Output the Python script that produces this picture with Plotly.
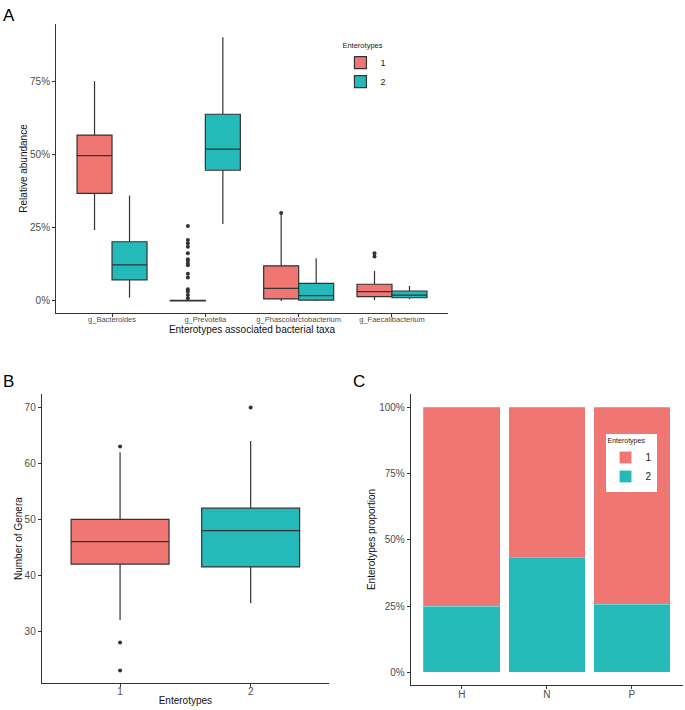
"""Enterotype figure: taxa abundance boxes (A), genera counts (B), group proportions (C)."""

import plotly.graph_objects as go

FONT = "Liberation Sans, Arial, sans-serif"
RED = "#EF7672"
TEAL = "#25BABA"
LINE = "#333333"
TICK_TXT = "#4D4D4D"

# ---- Panel A: relative abundance of enterotype-associated taxa ----
taxa = ["g_Bacteroides", "g_Prevotella", "g_Phascolarctobacterium", "g_Faecalibacterium"]

e1_lo = [0.242, 0.000, 0.000, 0.003]
e1_q1 = [0.367, 0.000, 0.007, 0.015]
e1_med = [0.496, 0.000, 0.043, 0.032]
e1_q3 = [0.566, 0.002, 0.120, 0.057]
e1_hi = [0.750, 0.003, 0.300, 0.102]

e2_lo = [0.011, 0.263, 0.000, 0.006]
e2_q1 = [0.072, 0.446, 0.003, 0.011]
e2_med = [0.123, 0.518, 0.018, 0.020]
e2_q3 = [0.202, 0.637, 0.060, 0.034]
e2_hi = [0.360, 0.900, 0.146, 0.051]

# outliers (enterotype 1 only)
out_taxon = ["g_Prevotella"] * 15 + ["g_Phascolarctobacterium"] + ["g_Faecalibacterium"] * 2
out_value = [0.256, 0.208, 0.197, 0.185, 0.163, 0.142, 0.136, 0.127, 0.122,
             0.093, 0.080, 0.040, 0.032, 0.020, 0.009,
             0.300,
             0.163, 0.152]

# ---- Panel B: number of genera per enterotype ----
ent_groups = ["1", "2"]
b_lo = [32, 35]
b_q1 = [42, 41.5]
b_med = [46, 48]
b_q3 = [50, 52]
b_hi = [62, 64]
b_out_group = ["1", "1", "1", "2"]
b_out_value = [63, 28, 23, 70]

# ---- Panel C: enterotype proportion per group ----
cohorts = ["H", "N", "P"]
prop_e1 = [0.750, 0.567, 0.743]
prop_e2 = [0.250, 0.433, 0.257]

DODGE = 0.1875
BOXW = 0.375

fig = go.Figure()

# Panel A boxes (numeric positions from category index, dodged)
idx = list(range(len(taxa)))
for name, color, shift, lo, q1, med, q3, hi in [
    ("1", RED, -DODGE, e1_lo, e1_q1, e1_med, e1_q3, e1_hi),
    ("2", TEAL, DODGE, e2_lo, e2_q1, e2_med, e2_q3, e2_hi),
]:
    fig.add_trace(go.Box(
        x=[i + shift for i in idx],
        lowerfence=lo, q1=q1, median=med, q3=q3, upperfence=hi,
        width=BOXW, whiskerwidth=0,
        fillcolor=color, line={"color": LINE, "width": 1.2},
        boxpoints=False, name=name, legend="legend",
        xaxis="x", yaxis="y",
    ))

fig.add_trace(go.Scatter(
    x=[taxa.index(t) - DODGE for t in out_taxon], y=out_value,
    mode="markers", marker={"color": LINE, "size": 4},
    showlegend=False, xaxis="x", yaxis="y",
))

# Panel B boxes
for g, color, lo, q1, med, q3, hi in zip(ent_groups, [RED, TEAL], b_lo, b_q1, b_med, b_q3, b_hi):
    fig.add_trace(go.Box(
        x=[g], lowerfence=[lo], q1=[q1], median=[med], q3=[q3], upperfence=[hi],
        width=0.75, whiskerwidth=0,
        fillcolor=color, line={"color": LINE, "width": 1.2},
        boxpoints=False, showlegend=False,
        xaxis="x2", yaxis="y2",
    ))

fig.add_trace(go.Scatter(
    x=b_out_group, y=b_out_value,
    mode="markers", marker={"color": LINE, "size": 4},
    showlegend=False, xaxis="x2", yaxis="y2",
))

# Panel C stacked bars (enterotype 2 at bottom)
fig.add_trace(go.Bar(
    x=cohorts, y=prop_e2, name="2", marker_color=TEAL, width=0.9,
    marker_line={"color": "rgba(255,255,255,0.4)", "width": 0.5},
    legend="legend2", legendrank=2, xaxis="x3", yaxis="y3",
))
fig.add_trace(go.Bar(
    x=cohorts, y=prop_e1, name="1", marker_color=RED, width=0.9,
    marker_line={"color": "rgba(255,255,255,0.4)", "width": 0.5},
    legend="legend2", legendrank=1, xaxis="x3", yaxis="y3",
))

axis_common = dict(
    showline=True, linecolor=LINE, linewidth=1,
    ticks="outside", ticklen=3, tickcolor=LINE, tickwidth=1,
    showgrid=False, zeroline=False,
    tickfont={"size": 10, "color": TICK_TXT, "family": FONT},
)
title_font = {"size": 10, "color": "#111111", "family": FONT}

fig.update_layout(
    width=685, height=710,
    margin={"l": 0, "r": 0, "t": 0, "b": 0},
    paper_bgcolor="white", plot_bgcolor="white",
    font={"family": FONT},
    barmode="stack",
    boxmode="overlay",
    xaxis=dict(
        axis_common, domain=[0.0818, 0.654], anchor="y",
        range=[-0.6, 3.6], tickvals=idx, ticktext=taxa,
        tickfont={"size": 7.5, "color": TICK_TXT, "family": FONT},
        ticklabelstandoff=-4,
        title={"text": "Enterotypes associated bacterial taxa", "font": title_font, "standoff": 0},
    ),
    yaxis=dict(
        axis_common, domain=[0.5592, 0.9662], anchor="x",
        range=[-0.041, 0.945], tickvals=[0, 0.25, 0.5, 0.75], tickformat=".0%",
        title={"text": "Relative abundance", "font": title_font, "standoff": 0},
    ),
    xaxis2=dict(
        axis_common, domain=[0.0609, 0.4803], anchor="y2",
        type="category", range=[-0.6, 1.6], ticklabelstandoff=-4,
        title={"text": "Enterotypes", "font": title_font, "standoff": 0},
    ),
    yaxis2=dict(
        axis_common, domain=[0.0376, 0.4451], anchor="x2",
        range=[20.7, 72.4], tickvals=[30, 40, 50, 60, 70],
        title={"text": "Number of Genera", "font": title_font, "standoff": 0},
    ),
    xaxis3=dict(
        axis_common, domain=[0.5996, 0.997], anchor="y3",
        type="category", range=[-0.6, 2.6], ticklabelstandoff=-3,
    ),
    yaxis3=dict(
        axis_common, domain=[0.0352, 0.4451], anchor="x3",
        range=[-0.048, 1.05], tickvals=[0, 0.25, 0.5, 0.75, 1.0], tickformat=".0%",
        title={"text": "Enterotypes proportion", "font": title_font, "standoff": 1},
    ),
    legend=dict(
        x=0.497, y=0.946, xanchor="left", yanchor="top",
        title={"text": "Enterotypes", "font": {"size": 7.5, "color": "#222"}},
        font={"size": 9, "color": "#222"},
        bgcolor="rgba(0,0,0,0)", tracegroupgap=0, itemwidth=30,
    ),
    legend2=dict(
        x=0.884, y=0.389, xanchor="left", yanchor="top",
        title={"text": "Enterotypes", "font": {"size": 7, "color": "#222"}},
        font={"size": 10, "color": "#222"},
        bgcolor="white", traceorder="normal", tracegroupgap=0, itemwidth=30,
    ),
    annotations=[
        dict(text="A", x=0.002, y=0.995, xref="paper", yref="paper",
             xanchor="left", yanchor="top", showarrow=False,
             font={"size": 17, "color": "black", "family": FONT}),
        dict(text="B", x=0.002, y=0.479, xref="paper", yref="paper",
             xanchor="left", yanchor="top", showarrow=False,
             font={"size": 17, "color": "black", "family": FONT}),
        dict(text="C", x=0.513, y=0.479, xref="paper", yref="paper",
             xanchor="left", yanchor="top", showarrow=False,
             font={"size": 17, "color": "black", "family": FONT}),
    ],
)

# drop the browser's default body margin so the figure sits at the page origin
fig.write_html(
    "out.html",
    config={"displayModeBar": False},
    post_script="document.body.style.margin = '0';",
)
